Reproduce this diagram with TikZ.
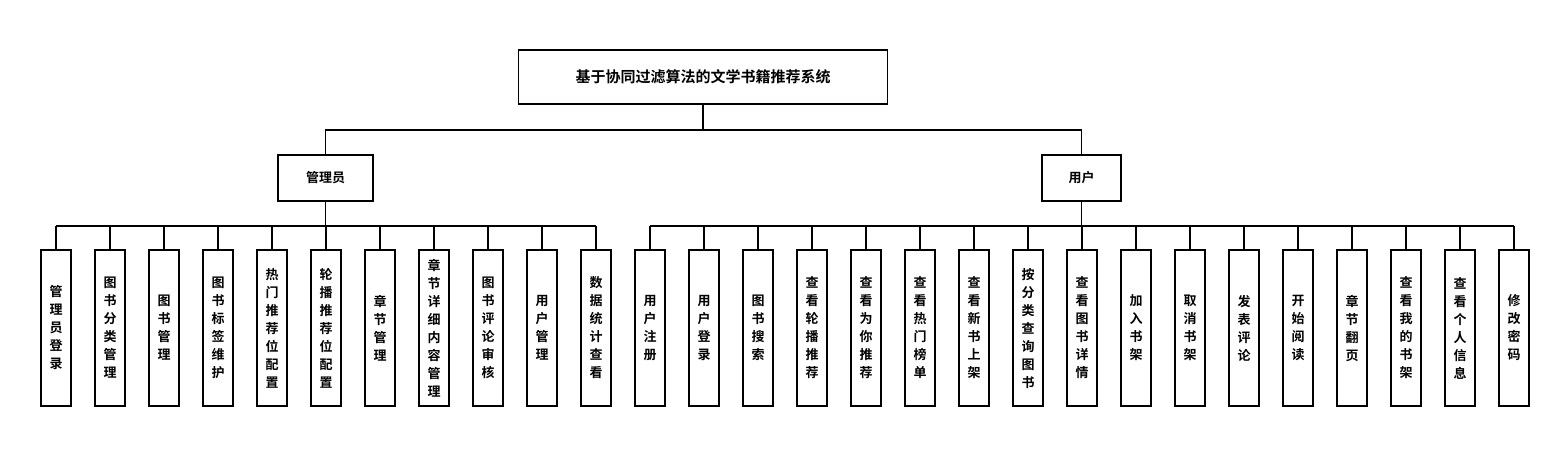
\documentclass[tikz,border=0pt]{standalone}
\usepackage{fontspec}
\newfontfamily\cjk{Noto Sans CJK SC Bold}
\begin{document}
\begin{tikzpicture}[x=1pt,y=-1pt,line width=1.5pt,
 box/.style={draw,fill=white,inner sep=0pt,font=\cjk\fontsize{13}{18}\selectfont},
 leaf/.style={box,minimum width=30pt,minimum height=156pt,align=center}]
\useasboundingbox (0,0) rectangle (1568,456);
\node[box,minimum width=369pt,minimum height=54pt,font=\cjk\fontsize{15}{18}\selectfont] (root) at (703,77) {基于协同过滤算法的文学书籍推荐系统};
\node[box,minimum width=95pt,minimum height=46pt] (adm) at (325.5,178) {管理员};
\node[box,minimum width=79pt,minimum height=46pt] (usr) at (1081.5,178) {用户};
\coordinate (j) at (703,130);
\draw (root.south) -- (j);
\draw (adm.north) -- (325.5,130) -- (1081.5,130) -- (usr.north);
\foreach \t [count=\i from 0] in {管\\理\\员\\登\\录,图\\书\\分\\类\\管\\理,图\\书\\管\\理,图\\书\\标\\签\\维\\护,热\\门\\推\\荐\\位\\配\\置,轮\\播\\推\\荐\\位\\配\\置,章\\节\\管\\理,章\\节\\详\\细\\内\\容\\管\\理,图\\书\\评\\论\\审\\核,用\\户\\管\\理,数\\据\\统\\计\\查\\看}{
 \node[leaf] (a\i) at (56+54*\i,328) {\t};
 \draw (a\i.north) -- (56+54*\i,226);
}
\draw (adm.south) -- (325.5,226);
\draw (a0.north |- 0,226) -- (a10.north |- 0,226);
\foreach \t [count=\i from 0] in {用\\户\\注\\册,用\\户\\登\\录,图\\书\\搜\\索,查\\看\\轮\\播\\推\\荐,查\\看\\为\\你\\推\\荐,查\\看\\热\\门\\榜\\单,查\\看\\新\\书\\上\\架,按\\分\\类\\查\\询\\图\\书,查\\看\\图\\书\\详\\情,加\\入\\书\\架,取\\消\\书\\架,发\\表\\评\\论,开\\始\\阅\\读,章\\节\\翻\\页,查\\看\\我\\的\\书\\架,查\\看\\个\\人\\信\\息,修\\改\\密\\码}{
 \node[leaf] (u\i) at (650+54*\i,328) {\t};
 \draw (u\i.north) -- (650+54*\i,226);
}
\draw (usr.south) -- (1081.5,226);
\draw (u0.north |- 0,226) -- (u16.north |- 0,226);
\end{tikzpicture}
\end{document}
